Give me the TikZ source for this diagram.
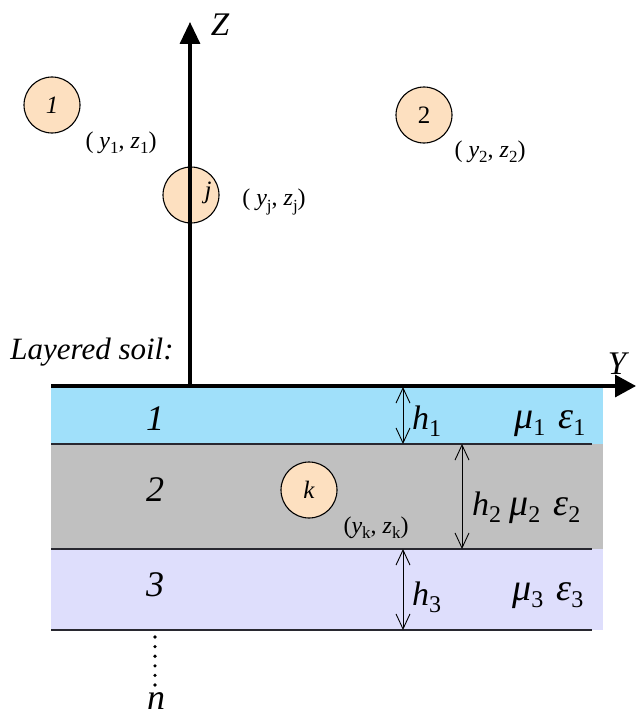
\documentclass[tikz,border=0pt]{standalone}
\usepackage{fontspec}
\usepackage{graphicx}
\setmainfont{Liberation Serif}
\usetikzlibrary{arrows.meta}
\definecolor{layerA}{RGB}{160,224,250}
\definecolor{layerB}{RGB}{192,192,192}
\definecolor{layerC}{RGB}{222,222,252}
\definecolor{peach}{RGB}{253,224,192}
\definecolor{linegray}{RGB}{40,40,48}
\newcommand\sz[1]{\fontsize{#1}{#1}\selectfont}
\newcommand\subsz{16}
\newcommand\lo[1]{\raisebox{-0.22em}{\fontsize{\subsz}{\subsz}\selectfont #1}}
\newcommand\gk[1]{{\itshape\sz{38}#1}}
\begin{document}
\begin{tikzpicture}[x=1pt,y=-1pt,
  pipe/.style={circle,draw=black,line width=1.1pt,fill=peach,minimum size=56pt,inner sep=0pt},
  pipelbl/.style={font=\sz{25}},
  coordlbl/.style={font=\sz{24}\renewcommand\subsz{17},inner sep=0pt},
  layerlbl/.style={font=\itshape\sz{36},inner sep=0pt},
  paramlbl/.style={font=\sz{34}\renewcommand\subsz{24},inner sep=0pt,anchor=base west},
  axis/.style={line width=3.4pt},
  bound/.style={draw=linegray,line width=1.4pt},
  dim/.style={line width=0.9pt,{Straight Barb[length=15pt,width=14pt]}-{Straight Barb[length=15pt,width=14pt]}}]
\useasboundingbox (0,0) rectangle (636,717);
% layers
\fill[layerA] (51,386) rectangle (603,444);
\fill[layerB] (51,444) rectangle (603,549);
\fill[layerC] (51,549) rectangle (603,630);
\coordinate (b1l) at (51,444); \coordinate (b1r) at (592,444);
\coordinate (b2l) at (51,549); \coordinate (b2r) at (592,549);
\coordinate (b3l) at (51,630); \coordinate (b3r) at (592,630);
\draw[bound] (b1l) -- (b1r);
\draw[bound] (b2l) -- (b2r);
\draw[bound] (b3l) -- (b3r);
% layer numbers
\node[layerlbl] (L1) at (155,419) {1};
\node[layerlbl] (L2) at (155,490) {2};
\node[layerlbl] (L3) at (155,585) {3};
% dotted continuation
\coordinate (dtop) at (155,637);
\coordinate (dbot) at (155,688);
\draw[line width=3.6pt,line cap=round,dash pattern=on 0pt off 9.6pt] (dtop) -- (dbot);
\node[font=\itshape\sz{36},inner sep=0pt] (n) at (156,701) {n};
% thickness arrows
\coordinate (h1t) at (403,387); \coordinate (h1b) at (403,444);
\coordinate (h2t) at (462,444); \coordinate (h2b) at (462,549);
\coordinate (h3t) at (403,549); \coordinate (h3b) at (403,630);
\draw[dim] (h1t) -- (h1b);
\draw[dim] (h2t) -- (h2b);
\draw[dim] (h3t) -- (h3b);
\node[paramlbl] (h1) at (412,429) {\textit{h}\lo{1}};
\node[paramlbl] (m1) at (514,428) {\gk{μ}\lo{1}\hspace{13pt}\gk{ε}\lo{1}};
\node[paramlbl] (m2) at (472,515) {\textit{h}\lo{2}\hspace{8pt}\gk{μ}\lo{2}\hspace{13pt}\gk{ε}\lo{2}};
\node[paramlbl] (h3) at (412,605) {\textit{h}\lo{3}};
\node[paramlbl] (m3) at (512,600) {\gk{μ}\lo{3}\hspace{13pt}\gk{ε}\lo{3}};
% conductors
\node[pipe] (c1) at (52,105) {};
\node[pipelbl,font=\itshape\sz{25}] at (c1) {1};
\node[pipe] (c2) at (424,115) {};
\node[pipelbl] at (c2) {2};
\node[pipe] (cj) at (191,195) {};
\node[pipelbl,font=\itshape\sz{25}] (jl) at (208,193) {j};
\node[pipe] (ck) at (309,490) {};
\node[pipelbl,font=\itshape\sz{25}] at (ck) {k};
\node[coordlbl] (p1) at (121,143) {( \textit{y}\lo{1}, \textit{z}\lo{1})};
\node[coordlbl] (p2) at (490,152) {( \textit{y}\lo{2}, \textit{z}\lo{2})};
\node[coordlbl] (pj) at (274,202) {( \textit{y}\lo{j}, \textit{z}\lo{j})};
\node[coordlbl] (pk) at (376,528) {(\textit{y}\lo{k}, \textit{z}\lo{k})};
% axes
\coordinate (O) at (190,386);
\coordinate (Ltip) at (51,386);
\coordinate (Ztip) at (190,22);
\coordinate (Ytip) at (636,386);
\draw[axis,-{Triangle[length=22pt,width=20pt]}] (O) -- (Ztip);
\draw[axis,-{Triangle[length=21pt,width=22pt]}] (Ltip) -- (Ytip);
\node[font=\itshape\sz{33},inner sep=0pt] (Zl) at (220,25) {Z};
\node[font=\itshape\sz{33},inner sep=0pt] (Yl) at (617,364) {Y};
\node[font=\itshape\sz{31},inner sep=0pt] (soil) at (92,352) {Layered soil:};
\end{tikzpicture}
\end{document}
